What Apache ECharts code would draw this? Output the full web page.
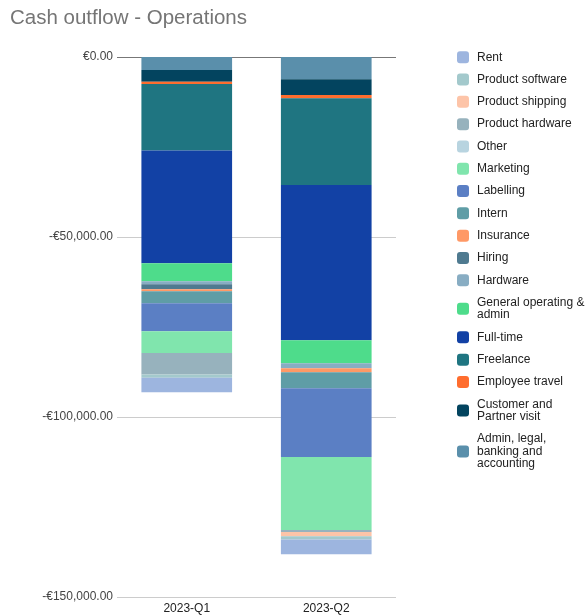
<!DOCTYPE html>
<html>
<head>
<meta charset="utf-8">
<script src="https://cdn.jsdelivr.net/npm/echarts@6/dist/echarts.min.js"></script>
<style>html,body{margin:0;padding:0;background:#fff}#c{width:587px;height:616px}</style>
</head>
<body>
<div id="c"></div>
<script>
const categories = ['2023-Q1', '2023-Q2'];
// series in stacking order (top of bar = first)
const seriesNames = [
  'Admin, legal, banking and accounting',
  'Customer and Partner visit',
  'Employee travel',
  'Freelance',
  'Full-time',
  'General operating & admin',
  'Hardware',
  'Hiring',
  'Insurance',
  'Intern',
  'Labelling',
  'Marketing',
  'Other',
  'Product hardware',
  'Product shipping',
  'Product software',
  'Rent'
];
const adminLegal      = [-3600, -6200];
const customerVisit   = [-3300, -4350];
const employeeTravel  = [-600, -900];
const freelance       = [-18500, -24100];
const fullTime        = [-31300, -43100];
const generalOperating= [-5000, -6400];
const hardware        = [-800, -1400];
const hiring          = [-1400, 0];
const insurance       = [-600, -1100];
const intern          = [-3300, -4450];
const labelling       = [-7800, -19100];
const marketing       = [-6000, -20300];
const other           = [0, 0];
const productHardware = [-6000, -550];
const productShipping = [0, -1200];
const productSoftware = [-900, -850];
const rent            = [-4000, -4100];
const yTicks = [-150000, -100000, -50000, 0];

const seriesValues = [adminLegal, customerVisit, employeeTravel, freelance, fullTime, generalOperating,
  hardware, hiring, insurance, intern, labelling, marketing, other, productHardware, productShipping,
  productSoftware, rent];
const colors = ['#5a8fab', '#03445f', '#ff6d2e', '#1f7581', '#1241a5', '#4edc8b', '#88adc3', '#4f7a90',
  '#ff9966', '#5f9da6', '#5b7fc4', '#80e5ad', '#b8d4e0', '#97b2bd', '#fdc4a8', '#a3c9cc', '#9db5df'];

const wrapped = {
  'General operating & admin': 'General operating &\nadmin',
  'Customer and Partner visit': 'Customer and\nPartner visit',
  'Admin, legal, banking and accounting': 'Admin, legal,\nbanking and\naccounting'
};

const font = 'Arial, "Liberation Sans", sans-serif';
const fmt = v => (v < 0 ? '-' : '') + '€' + Math.abs(v).toLocaleString('en-US', {minimumFractionDigits: 2, maximumFractionDigits: 2});

const chart = echarts.init(document.getElementById('c'));
chart.setOption({
  animation: false,
  color: colors,
  title: {
    text: 'Cash outflow - Operations', left: 5, top: 3,
    textStyle: {fontSize: 20.5, fontWeight: 'normal', color: '#757575', fontFamily: font}
  },
  legend: {
    orient: 'vertical', left: 452, top: 46,
    itemWidth: 12, itemHeight: 12, itemGap: 9.8,
    icon: 'roundRect',
    data: seriesNames.slice().reverse(),
    formatter: n => wrapped[n] || n,
    textStyle: {fontSize: 12, color: '#222', fontFamily: font, lineHeight: 12.5, padding: [0, 0, 0, 3]}
  },
  grid: {left: 117, right: 191, top: 57, bottom: 19, containLabel: false},
  xAxis: {
    type: 'category', data: categories,
    axisLine: {show: false}, axisTick: {show: false},
    axisLabel: {fontSize: 12, color: '#222', fontFamily: font, margin: 6}
  },
  yAxis: {
    type: 'value', min: yTicks[0], max: yTicks[yTicks.length - 1], interval: 50000,
    axisLine: {show: false}, axisTick: {show: false},
    axisLabel: {fontSize: 12, color: '#444', fontFamily: font, margin: 4, formatter: fmt},
    splitLine: {lineStyle: {color: ['#cccccc', '#cccccc', '#cccccc', '#777777'], width: 1}}
  },
  series: seriesNames.map((n, i) => ({
    name: n, type: 'bar', stack: 'total', data: seriesValues[i],
    barWidth: '65%',
    itemStyle: {color: colors[i]},
    emphasis: {disabled: true}
  }))
});
</script>
</body>
</html>
